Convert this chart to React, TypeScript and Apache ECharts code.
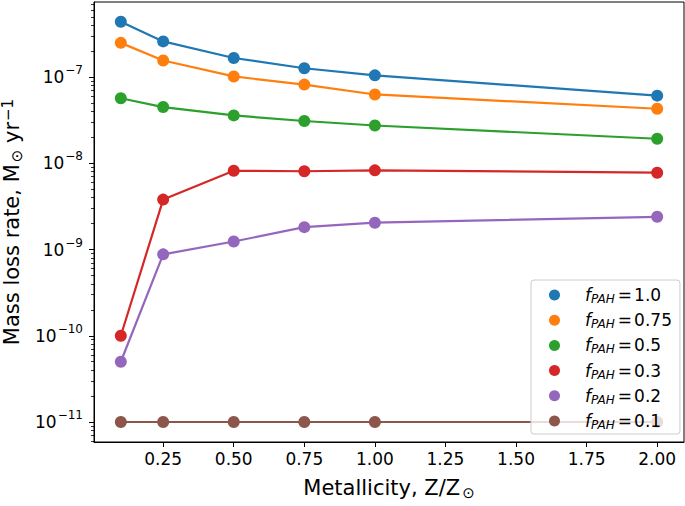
import React, { useEffect, useRef } from 'react';
import * as echarts from 'echarts';

const metallicity = [0.1, 0.25, 0.5, 0.75, 1.0, 2.0];
const fpahNames = ['1.0', '0.75', '0.5', '0.3', '0.2', '0.1'];
const rateF10 = [4.4e-7, 2.6e-7, 1.67e-7, 1.27e-7, 1.05e-7, 6.1e-8];
const rateF075 = [2.5e-7, 1.56e-7, 1.02e-7, 8.2e-8, 6.3e-8, 4.3e-8];
const rateF05 = [5.7e-8, 4.5e-8, 3.6e-8, 3.1e-8, 2.75e-8, 1.93e-8];
const rateF03 = [1.0e-10, 3.8e-9, 8.2e-9, 8.1e-9, 8.3e-9, 7.8e-9];
const rateF02 = [5.0e-11, 8.8e-10, 1.24e-9, 1.82e-9, 2.05e-9, 2.4e-9];
const rateF01 = [1e-11, 1e-11, 1e-11, 1e-11, 1e-11, 1e-11];
const xTicks = [0.25, 0.5, 0.75, 1.0, 1.25, 1.5, 1.75, 2.0];
const yMajorExponents = [-11, -10, -9, -8, -7];
const yMinorMultipliers = [2, 3, 4, 5, 6, 7, 8, 9];
const yMinorDecades = [-12, -11, -10, -9, -8, -7];

const colors = ['#1f77b4', '#ff7f0e', '#2ca02c', '#d62728', '#9467bd', '#8c564b'];
const FONT = 'DejaVu Sans';

const X_MIN = 0.005;
const X_MAX = 2.095;
const Y_MIN = -11.232;
const Y_MAX = -6.128;

export default function App() {
  const ref = useRef<HTMLDivElement>(null);
  useEffect(() => {
    if (!ref.current) return;
    const chart = echarts.init(ref.current, null, { renderer: 'svg' });
    const allRates = [rateF10, rateF075, rateF05, rateF03, rateF02, rateF01];
    const minorTicks: number[] = [];
    yMinorDecades.forEach((d) =>
      yMinorMultipliers.forEach((m) => {
        const v = Math.log10(m * Math.pow(10, d));
        if (v >= Y_MIN && v <= Y_MAX) minorTicks.push(v);
      })
    );
    const series = allRates.map((arr, i) => ({
      name: fpahNames[i],
      type: 'line',
      data: metallicity.map((x, j) => [x, Math.log10(arr[j])]),
      symbol: 'circle',
      symbolSize: 12,
      showSymbol: true,
      color: colors[i],
      itemStyle: { color: colors[i] },
      lineStyle: { color: colors[i], width: 2.2 },
      yAxisIndex: 0,
      xAxisIndex: 0,
      z: 2 + i,
    }));
    const option: any = {
      animation: false,
      backgroundColor: '#fff',
      textStyle: { fontFamily: FONT },
      grid: {
        left: 94,
        right: 1,
        top: 2,
        bottom: 64,
        show: true,
        containLabel: false,
        outerBoundsMode: 'none',
        borderColor: '#000',
        borderWidth: 1,
        backgroundColor: 'transparent',
      },
      legend: {
        orient: 'vertical',
        left: 531,
        top: 280,
        z: 20,
        padding: [5, 8, 3, 18],
        itemWidth: 11,
        itemHeight: 11,
        itemGap: 5.2,
        icon: 'circle',
        backgroundColor: 'rgba(255,255,255,0.8)',
        borderColor: '#cccccc',
        borderWidth: 1,
        borderRadius: 3,
        data: fpahNames,
        formatter: (name: string) => `{f|f}{p|PAH}{e|=}{n|${name}}`,
        textStyle: {
          color: '#000',
          fontFamily: FONT,
          rich: {
            f: { fontSize: 17, fontStyle: 'italic', fontFamily: FONT, lineHeight: 20, padding: [0, 0, 0, 20] },
            p: { fontSize: 12, fontStyle: 'italic', fontFamily: FONT, lineHeight: 20, padding: [8, 0, 0, 0] },
            e: { fontSize: 17, fontFamily: FONT, lineHeight: 20, padding: [0, 2, 0, 3] },
            n: { fontSize: 17, fontFamily: FONT, lineHeight: 20 },
          },
        },
      },
      xAxis: {
        type: 'value',
        min: X_MIN,
        max: X_MAX,
        name: '{a|Metallicity, Z/Z}{s|⊙}',
        nameLocation: 'middle',
        nameGap: 34,
        nameTextStyle: {
          color: '#000',
          rich: {
            a: { fontSize: 21, fontFamily: FONT, color: '#000', lineHeight: 24 },
            s: { fontSize: 15, fontFamily: FONT, color: '#000', lineHeight: 14, padding: [10, 0, 0, 2] },
          },
        },
        axisLine: { show: true, onZero: false, lineStyle: { color: '#000', width: 1 } },
        axisTick: { show: true, inside: false, length: 5, customValues: xTicks, lineStyle: { color: '#000', width: 1 } },
        axisLabel: {
          customValues: xTicks,
          formatter: (v: number) => v.toFixed(2),
          color: '#000',
          fontSize: 17,
          fontFamily: FONT,
          margin: 8,
        },
        splitLine: { show: false },
      },
      yAxis: [
        {
          type: 'value',
          position: 'left',
          min: Y_MIN,
          max: Y_MAX,
          name: '{a|Mass loss rate, M}{s|⊙}{a| yr}{u|−1}',
          nameLocation: 'middle',
          nameRotate: 90,
          nameGap: 60,
          nameTextStyle: {
            color: '#000',
            rich: {
              a: { fontSize: 21, fontFamily: FONT, color: '#000', lineHeight: 24 },
              s: { fontSize: 15, fontFamily: FONT, color: '#000', lineHeight: 14, padding: [10, 0, 0, 2] },
              u: { fontSize: 15, fontFamily: FONT, color: '#000', lineHeight: 16, padding: [0, 0, 8, 1] },
            },
          },
          axisLine: { show: true, onZero: false, lineStyle: { color: '#000', width: 1 } },
          axisTick: { show: true, inside: false, length: 5, customValues: yMajorExponents, lineStyle: { color: '#000', width: 1 } },
          axisLabel: {
            customValues: yMajorExponents,
            formatter: (v: number) => `{b|10}{e|−${Math.abs(Math.round(v))}}`,
            color: '#000',
            margin: 11,
            rich: {
              b: { fontSize: 17, fontFamily: FONT, color: '#000' },
              e: { fontSize: 12, fontFamily: FONT, color: '#000', padding: [0, 0, 14, 1] },
            },
          },
          splitLine: { show: false },
        },
        {
          type: 'value',
          position: 'left',
          offset: 0,
          min: Y_MIN,
          max: Y_MAX,
          axisLine: { show: false },
          axisTick: { show: true, inside: false, length: 3, customValues: minorTicks, lineStyle: { color: '#000', width: 0.8 } },
          axisLabel: { show: false },
          splitLine: { show: false },
        },
      ],
      series,
    };
    chart.setOption(option);
    return () => chart.dispose();
  }, []);
  return (
    <div
      ref={ref}
      style={{ position: 'fixed', left: 0, top: 0, width: 685, height: 506, background: '#fff' }}
    />
  );
}
